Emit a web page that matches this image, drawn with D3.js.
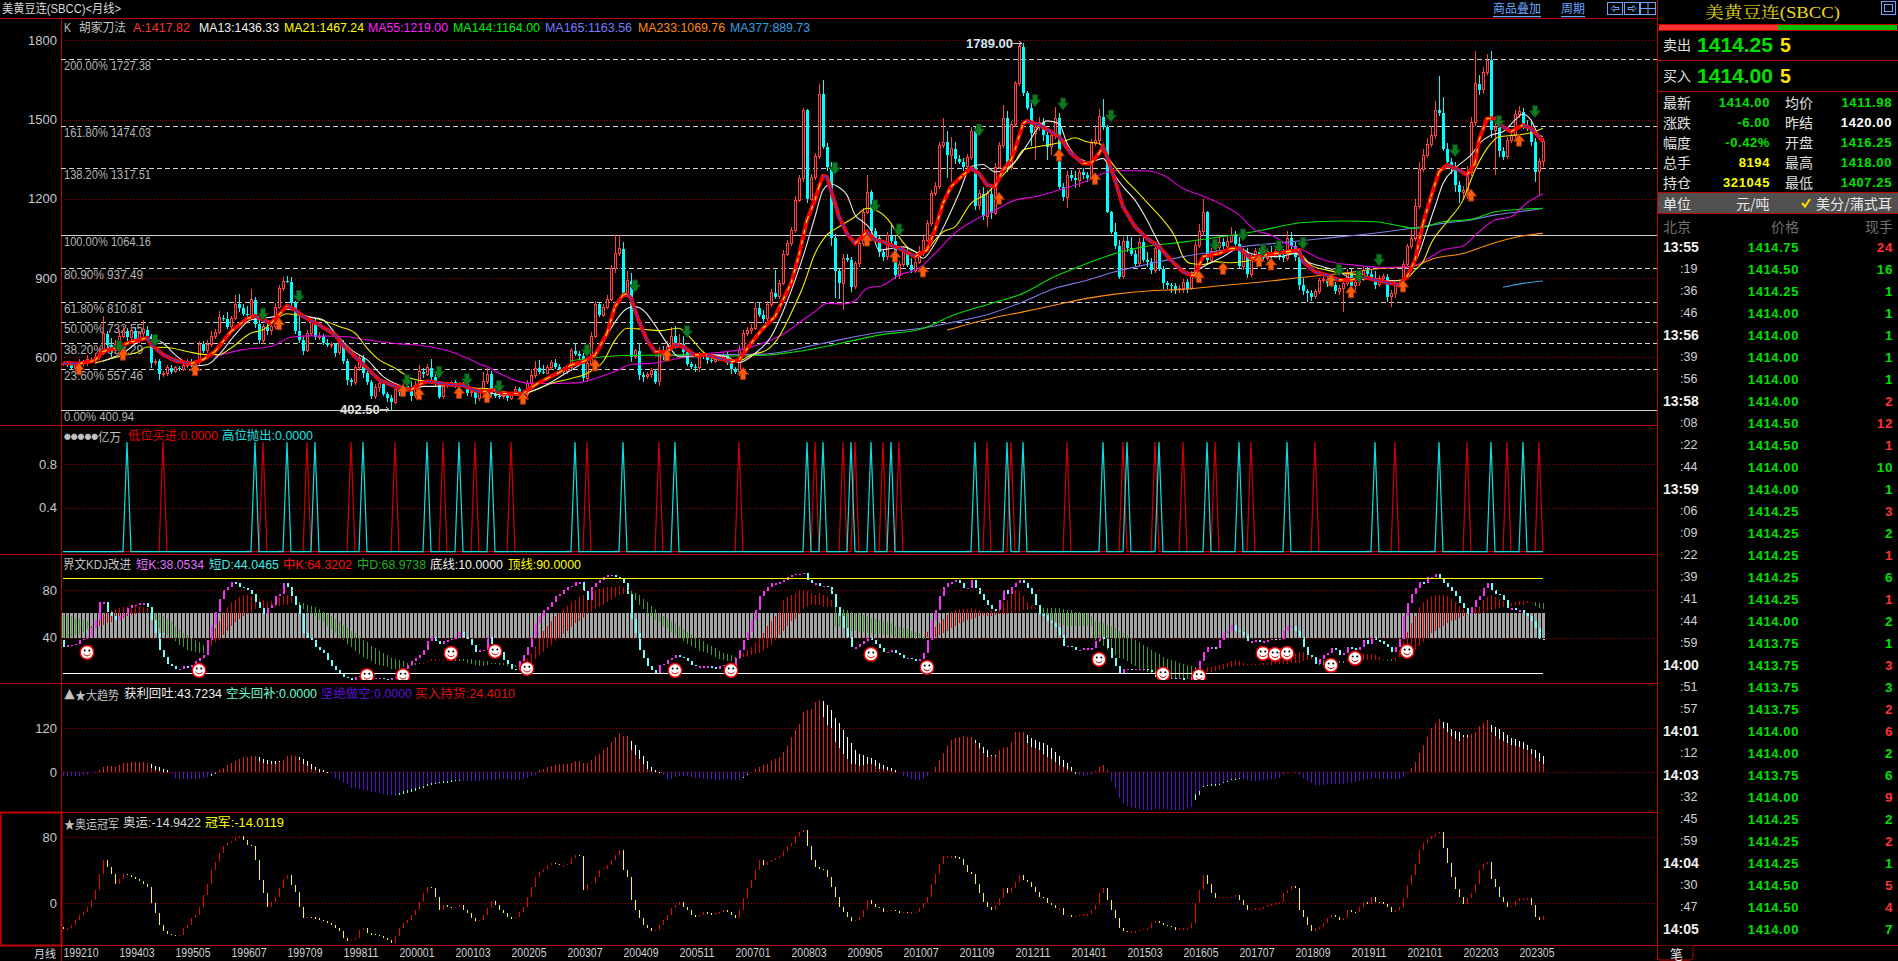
<!DOCTYPE html>
<html><head><meta charset="utf-8"><title>美黄豆连(SBCC)</title>
<script src="https://cdn.jsdelivr.net/npm/d3@7/dist/d3.min.js"></script>
<style>html,body{margin:0;padding:0;background:#000;overflow:hidden}svg{display:block}
text{font-family:"Liberation Sans","Noto Sans CJK SC",sans-serif;font-size:12px}
.cjk{font-family:"Noto Sans CJK SC",sans-serif}
</style></head><body><svg id="c" width="1898" height="961"></svg>
<script>
// ---- candle data (price, one value per month) ----
const closes=[578,572,560,570,580,575,590,585,600,615,
690,647,625,650,680,700,675,700,665,690,
705,680,580,585,535,540,560,545,560,555,
570,585,570,580,650,625,650,680,695,750,
745,715,745,800,787,765,760,818,725,665,
715,700,715,790,860,887,885,805,700,665,
625,690,730,675,680,655,645,650,618,655,
585,515,505,560,597,540,505,452,485,500,
462,447,430,480,470,490,480,455,495,545,
535,560,525,500,450,495,500,505,490,495,
500,465,470,445,470,510,535,460,452,450,
455,445,460,480,470,460,500,530,558,545,
540,560,580,565,555,545,560,625,612,605,
520,575,680,800,760,790,820,935,993,1010,
842,890,602,625,533,527,535,550,507,625,
605,640,680,645,650,620,575,565,560,610,
600,590,585,605,600,608,580,555,545,630,
690,700,710,785,760,745,800,845,830,880,
990,1030,1080,1195,1275,1535,1198,1280,1360,1596,
1397,1320,1050,925,880,975,970,868,955,1030,
1150,1225,1080,1050,1000,980,1060,1040,910,950,
1000,950,930,960,1000,1043,1105,1220,1245,1400,
1415,1365,1390,1352,1340,1322,1355,1456,1173,1220,
1133,1220,1145,1320,1400,1504,1320,1480,1636,1775,
1599,1545,1448,1470,1490,1440,1397,1440,1504,1246,
1205,1290,1277,1270,1300,1290,1280,1410,1420,1510,
1470,1150,1075,1020,905,1040,1012,990,955,1035,
970,960,930,1010,935,880,875,870,855,860,
885,860,910,1025,1075,1150,968,1000,1015,1035,
1020,1040,1060,1030,945,1000,915,975,1000,985,
975,1000,985,1000,985,975,1050,1020,980,875,
850,845,830,850,890,895,880,875,850,860,
880,918,870,885,900,930,915,900,875,900,
905,830,840,875,880,950,1020,1050,1170,1310,
1365,1405,1440,1535,1525,1390,1340,1315,1252,1225,
1230,1300,1490,1635,1612,1680,1725,1460,1470,1380,
1360,1420,1440,1520,1530,1480,1465,1415,1303,1340,
1417];
const upperWick=[6,8,5,10,12,8,20,8,15,25,
65,10,25,15,25,18,10,20,15,10,
35,15,8,10,8,8,10,10,6,6,
8,10,10,10,12,10,15,20,12,25,
10,25,10,36,40,15,30,40,10,15,
10,15,10,15,12,16,20,20,10,55,
10,15,10,20,15,8,15,8,5,10,
10,10,8,10,12,10,8,10,15,20,
10,8,10,12,8,15,15,30,15,25,
15,15,35,10,10,10,8,5,10,10,
8,12,5,8,12,35,25,15,8,8,
5,8,10,10,8,8,15,25,28,30,
25,10,8,15,10,8,12,10,28,10,
12,10,15,15,5,10,15,15,70,53,
25,35,30,8,30,10,8,8,5,15,
18,20,35,40,40,30,10,8,8,10,
10,15,8,8,8,10,15,8,8,15,
15,15,15,25,20,20,12,15,85,12,
15,15,15,15,15,10,5,15,15,40,
53,15,20,15,10,15,15,10,10,15,
15,65,10,10,10,10,15,40,20,15,
10,15,25,15,20,15,15,15,20,15,
90,40,45,25,15,15,15,15,15,15,
25,15,20,15,15,50,30,15,10,15,
14,10,25,15,20,15,25,20,44,20,
15,15,20,30,15,15,10,15,60,30,
66,10,5,35,25,15,20,45,15,15,
25,30,15,15,10,10,8,8,10,15,
10,10,15,15,30,50,5,15,15,25,
15,20,35,20,25,15,15,15,15,15,
15,15,20,20,30,25,30,25,15,10,
25,10,10,10,10,15,15,15,10,15,
15,15,15,15,10,10,15,15,25,10,
10,10,15,10,8,15,10,40,30,30,
25,25,35,35,130,60,20,15,25,15,
20,25,20,124,35,20,23,34,20,15,
15,15,25,15,20,15,20,30,15,15,
15];
const lowerWick=[5,8,8,10,8,8,8,5,5,10,
8,15,25,10,10,8,15,10,8,10,
15,10,20,8,20,10,12,8,6,5,
6,10,8,8,10,8,8,10,12,8,
8,8,15,5,15,8,10,8,15,15,
15,15,15,8,8,8,5,10,10,10,
15,5,8,8,8,10,5,8,15,8,
10,20,15,10,10,20,8,10,8,15,
8,15,28,8,15,10,8,20,10,8,
15,5,20,8,8,8,10,10,8,10,
8,10,15,20,10,12,10,15,5,8,
8,10,8,8,10,15,10,8,8,8,
5,5,8,8,8,8,8,8,8,10,
15,15,8,8,8,8,8,8,15,10,
15,8,20,8,20,20,10,15,8,15,
15,8,10,15,8,15,8,8,15,15,
8,15,8,8,8,10,8,20,10,15,
8,10,10,8,8,15,8,8,8,10,
8,8,10,8,8,10,15,8,10,10,
8,15,30,100,60,100,10,20,10,15,
10,8,15,10,20,15,10,10,15,15,
10,10,10,10,8,15,8,8,8,8,
8,88,100,20,10,15,8,8,15,15,
15,40,20,8,8,8,20,10,8,8,
8,8,50,100,15,20,50,30,15,10,
15,41,8,30,25,15,15,8,10,15,
10,5,8,10,10,10,15,8,10,15,
10,20,15,10,10,20,15,25,15,10,
15,15,5,8,10,15,10,10,10,8,
10,15,8,8,10,15,15,10,10,15,
10,10,15,10,15,15,10,12,15,20,
15,35,15,10,10,8,15,10,10,15,
90,10,20,15,15,10,12,10,15,10,
8,20,40,15,10,8,8,10,10,8,
8,10,8,15,10,10,15,20,25,40,
30,30,15,15,20,15,10,30,170,20,
15,10,10,10,15,15,10,15,40,90,
20];
// ---- moving averages: [bar index, price] ----
const maA=[[0,578],[4,576],[8,588],[10,622],[13,635],[17,658],[21,673],[22,650],[25,610],[28,588],[32,576],[35,591],[38,622],[42,698],[46,746],[48,757],[50,742],[52,729],[54,761],[56,795],[58,780],[60,755],[64,723],[68,685],[70,647],[73,603],[76,559],[79,515],[82,496],[85,481],[87,477],[89,496],[91,509],[94,503],[97,496],[100,494],[103,475],[105,470],[108,476],[110,463],[115,463],[118,495],[121,520],[124,542],[127,571],[130,583],[133,608],[136,691],[138,792],[140,836],[141,840],[142,823],[144,735],[146,665],[148,621],[151,621],[153,647],[155,640],[158,609],[161,609],[164,596],[167,583],[169,590],[172,653],[175,710],[178,754],[180,817],[182,880],[184,987],[186,1120],[188,1195],[189,1246],[190,1287],[191,1283],[192,1233],[194,1132],[196,1069],[198,1031],[201,1075],[203,1044],[205,1038],[207,1025],[210,1006],[213,981],[216,1006],[218,1082],[220,1183],[222,1246],[225,1290],[227,1315],[229,1296],[231,1252],[233,1246],[235,1309],[237,1347],[238,1385],[240,1485],[241,1495],[244,1479],[247,1454],[249,1435],[252,1372],[255,1334],[257,1334],[259,1372],[260,1397],[261,1359],[263,1271],[265,1170],[268,1094],[271,1050],[274,1019],[277,968],[280,924],[282,911],[283,911],[285,981],[289,993],[292,1012],[294,1012],[297,975],[300,987],[303,993],[306,1000],[309,1006],[310,962],[313,924],[316,911],[319,893],[322,893],[325,905],[328,893],[331,883],[334,874],[336,905],[338,968],[340,1107],[342,1208],[344,1303],[346,1328],[349,1309],[351,1290],[353,1334],[354,1422],[356,1504],[358,1504],[360,1473],[362,1454],[365,1479],[367,1466],[370,1417]];
const ma13=[[10,585],[15,616],[21,673],[25,654],[28,610],[33,568],[36,572],[39,610],[43,685],[47,742],[50,748],[53,755],[56,782],[58,777],[61,755],[65,742],[68,692],[72,629],[76,591],[80,528],[84,494],[87,477],[90,490],[94,490],[98,496],[102,484],[106,470],[110,457],[115,463],[120,489],[125,533],[130,580],[134,628],[137,710],[141,785],[143,792],[145,779],[148,722],[151,653],[154,602],[158,602],[162,609],[166,602],[169,580],[173,615],[177,678],[181,810],[185,981],[188,1132],[190,1233],[192,1256],[194,1243],[196,1214],[198,1139],[200,1113],[202,1082],[204,1006],[207,1012],[210,1018],[213,1000],[215,975],[218,1031],[221,1120],[224,1220],[227,1322],[230,1330],[233,1302],[236,1315],[238,1340],[241,1403],[244,1473],[246,1495],[249,1485],[251,1410],[254,1353],[257,1340],[260,1353],[262,1309],[265,1246],[268,1195],[271,1120],[274,1031],[277,962],[280,930],[282,918],[285,943],[290,981],[294,1012],[297,993],[301,981],[304,981],[308,993],[311,962],[315,943],[319,924],[323,893],[327,899],[331,890],[335,890],[337,930],[339,993],[341,1082],[343,1170],[345,1258],[348,1315],[352,1366],[355,1422],[357,1441],[360,1454],[363,1498],[365,1521],[367,1498],[369,1441],[370,1436]];
const ma21=[[8,578],[14,603],[19,622],[21,639],[26,637],[31,622],[36,610],[39,610],[42,635],[47,692],[50,704],[53,742],[56,765],[60,757],[64,744],[69,717],[73,692],[76,635],[79,591],[83,559],[87,521],[91,509],[95,503],[99,496],[103,484],[106,482],[110,470],[114,457],[118,476],[122,501],[127,520],[131,539],[135,583],[138,665],[141,710],[145,706],[149,701],[154,710],[157,672],[160,621],[164,590],[169,587],[172,609],[176,628],[179,678],[182,766],[185,867],[188,993],[191,1063],[194,1094],[198,1132],[201,1164],[204,1151],[207,1107],[209,1056],[212,1006],[215,993],[218,1044],[220,1075],[223,1094],[227,1183],[231,1220],[235,1290],[238,1340],[240,1385],[243,1395],[247,1406],[250,1416],[253,1431],[256,1416],[259,1410],[262,1340],[265,1283],[269,1220],[272,1170],[275,1120],[278,1056],[280,981],[282,955],[285,951],[288,962],[292,958],[297,968],[301,987],[306,993],[309,993],[312,949],[316,930],[320,918],[325,911],[329,890],[333,890],[336,899],[338,930],[340,962],[342,1031],[346,1113],[350,1195],[353,1309],[357,1410],[359,1435],[363,1441],[367,1450],[370,1467]];
const ma55=[[38,603],[45,629],[52,641],[57,676],[62,681],[70,679],[76,666],[84,651],[90,644],[96,626],[101,597],[104,576],[106,564],[110,533],[114,508],[118,501],[124,501],[129,504],[133,520],[138,546],[142,573],[147,577],[152,590],[158,609],[163,617],[169,628],[175,653],[181,697],[185,741],[188,773],[191,804],[195,802],[198,814],[201,861],[205,873],[209,911],[214,937],[218,993],[223,1071],[228,1120],[233,1157],[238,1195],[243,1208],[249,1233],[255,1262],[260,1296],[263,1306],[270,1306],[275,1290],[280,1239],[285,1210],[290,1176],[294,1139],[298,1082],[302,1063],[306,1029],[310,1006],[314,975],[318,958],[323,949],[330,940],[336,943],[339,953],[342,981],[345,1006],[350,1021],[354,1075],[358,1120],[362,1132],[366,1185],[370,1219]];
const ma144=[[127,587],[140,607],[155,609],[170,605],[185,625],[195,655],[204,684],[215,709],[222,756],[232,804],[240,842],[247,899],[255,949],[263,993],[270,1018],[280,1036],[290,1057],[300,1082],[310,1110],[320,1116],[328,1113],[333,1101],[338,1088],[345,1113],[352,1122],[358,1151],[364,1160],[370,1164]];
const ma165=[[148,605],[160,609],[175,612],[190,653],[204,694],[212,705],[222,731],[232,766],[240,810],[248,861],[256,892],[263,924],[272,955],[280,981],[290,1006],[295,1019],[305,1034],[315,1050],[325,1065],[335,1084],[345,1107],[352,1120],[358,1139],[364,1151],[370,1163]];
const ma233=[[221,703],[232,747],[240,772],[248,798],[256,823],[263,839],[272,852],[280,857],[290,872],[300,886],[310,903],[320,918],[330,937],[337,943],[343,975],[350,993],[357,1029],[364,1057],[370,1069]];
const ma377=[[360,865],[365,880],[370,889]];
const sellArrows=[[14,641],[23,664],[50,763],[59,830],[86,511],[94,543],[101,515],[109,489],[131,625],[143,870],[156,697],[193,1315],[203,1173],[209,1082],[229,1460],[243,1571],[250,1559],[262,1513],[288,1025],[295,1063],[300,1006],[304,1019],[310,1031],[319,930],[324,905],[329,968],[348,1382],[359,1492],[368,1530]];
const buyArrows=[[4,557],[15,612],[33,553],[54,727],[85,474],[89,462],[99,467],[106,451],[115,445],[133,571],[151,609],[170,539],[201,1044],[208,983],[215,927],[234,1202],[249,1366],[258,1277],[284,905],[290,937],[299,966],[302,953],[317,893],[322,848],[335,870],[352,1214],[364,1422]];
const fibLevels=[["200.00%",1727.38],["161.80%",1474.03],["138.20%",1317.51],["100.00%",1064.16],["80.90%",937.49],["61.80%",810.81],["50.00%",732.55],["38.20%",654.29],["23.60%",557.46],["0.00%",400.94]];
const priceTicks=[600,900,1200,1500,1800];
// ---- signal panel ----
const highSell=[16,48,56,63,75,91,99,107,128,140,153,186,190,197,202,207,228,236,240,260,266,274,286,294,306,328,344,357,365];
const lowBuy=[25,50,61,72,83,95,103,112,131,149,169,188,195,198,205,209,231,237,251,265,273,280,288,297,313,333,351,361,369];
const signalTicks=[0.4,0.8];
// ---- KDJ panel ----
const shortK=[32,34,34,35,38,39,41,48,55,70,
70,62,58,55,58,60,65,68,68,69,
69,66,55,44,30,24,18,16,14,14,
16,15,17,20,23,25,38,51,62,73,
80,83,87,86,83,82,80,77,70,65,
60,65,68,75,77,86,83,75,68,60,
44,40,38,32,30,27,21,16,13,10,
7,6,4,7,8,7,6,6,6,6,
5,4,6,7,10,14,17,20,23,25,
30,37,41,37,35,37,38,39,41,45,
41,39,34,28,30,30,41,35,28,28,
21,18,14,13,20,25,32,41,52,58,
63,66,70,75,77,80,83,84,87,87,
79,72,83,86,89,91,93,93,91,90,
86,77,56,44,30,23,16,13,10,17,
18,21,23,25,24,23,20,17,16,16,
16,16,15,14,16,17,17,16,23,30,
38,45,55,63,75,79,83,86,86,87,
89,91,93,94,94,95,89,86,86,84,
84,83,77,66,58,48,41,32,32,35,
37,41,38,35,31,28,28,30,27,25,
23,23,22,21,22,27,38,55,63,75,
83,86,87,89,86,82,82,89,82,77,
72,68,64,63,72,80,77,83,86,89,
86,82,77,68,60,59,54,52,49,42,
33,33,32,30,30,31,31,31,37,41,
39,31,23,16,10,14,14,13,14,14,
14,13,11,7,6,5,6,6,5,6,
4,4,7,14,20,28,32,32,31,38,
44,46,51,46,45,42,37,37,38,37,
37,38,39,38,39,46,50,50,46,41,
32,25,24,18,22,25,27,31,30,25,
27,32,31,30,32,38,35,41,38,37,
35,32,28,32,39,58,69,77,82,87,
86,91,91,94,90,86,83,79,75,69,
65,60,66,72,75,82,86,80,77,76,
72,65,65,63,63,61,58,54,48,39,
38];
const midK=[40,40,41,42,43,45,47,
50,55,58,60,62,63,64,65,66,66,67,67,67,66,65,64,
52,48,45,42,40,37,34,32,30,29,28,27,27,
36,42,48,54,60,66,70,72,74,76,76,75,74,73,72,71,71,72,74,75,76,75,74,
66,64,62,60,58,55,53,50,47,44,41,38,35,32,29,26,24,22,20,18,17,16,15,14,14,14,15,15,16,17,18,19,20,
22,22,22,21,21,21,20,20,20,19,18,17,16,16,17,18,18,17,17,16,15,15,15,16,
22,27,33,40,46,50,54,58,61,64,67,70,72,74,76,78,79,80,81,82,83,83,83,84,83,
80,77,72,68,64,60,58,55,53,50,48,45,42,39,37,35,33,31,29,28,27,25,24,22,21,20,20,20,22,
27,30,32,36,40,44,50,54,58,62,72,74,76,78,80,80,79,78,76,
78,76,74,72,
50,49,48,47,46,46,45,45,44,44,43,43,42,42,42,41,41,40,40,40,39,39,39,
45,47,49,52,56,59,62,63,64,64,64,65,64,63,62,62,63,64,66,70,72,
78,80,79,75,70,67,66,
62,60,58,56,54,52,51,50,50,50,50,50,50,50,
38,36,33,30,27,25,23,22,20,18,16,14,12,11,10,9,8,7,6,6,5,5,5,5,5,5,6,
13,15,15,16,17,18,19,20,21,20,19,18,18,18,18,
19,19,20,20,21,22,23,24,26,28,28,26,24,
18,17,17,18,18,18,19,19,
21,23,24,26,27,26,26,25,24,22,20,20,24,
30,37,45,52,58,66,70,73,75,76,76,76,75,73,70,67,64,63,64,65,67,72,74,76,74,72,71,70,69,70,71,71,71,70,67,65,64];
const midD=[60,59,58,57,56,55,54,
48,49,50,51,52,53,55,56,57,58,59,60,61,61,62,62,
61,60,58,56,54,50,47,44,42,40,38,36,34,
34,33,36,38,42,46,50,53,56,58,60,62,64,65,65,65,66,66,67,68,68,69,69,
70,69,68,67,66,64,62,60,58,56,54,51,48,46,44,41,38,36,33,31,29,27,25,23,22,21,20,19,19,19,19,19,20,
20,20,21,21,21,22,22,22,22,22,22,21,21,20,20,19,19,19,19,18,18,17,17,16,
18,19,22,25,28,31,34,37,40,43,46,49,52,54,57,60,62,64,66,68,70,72,74,76,77,
80,80,78,76,73,70,67,64,61,58,56,54,52,50,47,45,43,41,39,37,35,33,31,29,27,26,25,24,24,
24,24,25,26,27,29,31,34,38,42,46,50,54,56,60,64,66,68,68,
68,66,66,66,
66,65,64,63,62,61,60,59,58,57,56,55,54,53,52,50,49,48,47,46,45,44,41,
41,41,41,42,44,46,48,50,52,53,55,56,57,58,59,58,58,59,60,60,60,
61,62,62,63,63,64,64,
65,65,65,65,65,65,64,63,63,62,62,61,60,58,
54,53,52,51,50,48,46,44,42,40,38,36,34,32,30,28,26,24,22,21,20,19,18,17,16,15,14,
12,11,11,12,13,14,15,15,16,16,16,17,17,17,17,
17,17,17,18,18,18,18,19,19,19,20,21,22,
22,22,21,21,20,20,20,20,
20,20,20,20,21,21,21,21,21,21,21,22,20,
24,24,26,28,30,33,36,40,44,46,48,50,52,54,55,57,58,59,60,60,60,61,62,63,64,65,66,67,67,68,68,68,69,69,70,69,69];
const kdjTicks=[40,80];
const kdjBand=[40,61], kdjFloor=10, kdjCeil=90;
const smileys=[[6,27.6],[34,12.4],[76,8],[85,8],[97,26.8],[108,28.5],[116,14],[153,12.4],[167,12.4],[202,26],[216,15],[259,21.7],[275,9.3],[284,7.6],[300,26.8],[303,26],[306,26.8],[317,16.7],[323,22.6],[336,28.5]];
// ---- trend histogram ----
const trend=[-9,-9,-9,-9,-9,-8,-7,-3,-1,6,
14,17,17,15,20,25,26,27,28,27,
27,26,22,18,15,9,6,-1,-15,-17,
-19,-19,-19,-17,-17,-16,-14,-9,-2,5,
12,20,26,30,37,41,43,45,45,41,
37,34,32,30,30,33,44,46,45,42,
36,30,22,15,10,6,2,-5,-15,-22,
-28,-33,-42,-44,-45,-47,-50,-54,-55,-56,
-59,-62,-63,-64,-63,-60,-57,-54,-50,-45,
-42,-38,-35,-33,-30,-28,-28,-26,-24,-22,
-23,-25,-25,-25,-24,-22,-20,-20,-20,-19,
-19,-19,-20,-20,-20,-18,-16,-10,-8,5,
10,14,18,21,23,23,24,26,30,32,
25,26,33,45,50,60,68,82,97,106,
100,100,85,75,60,45,30,15,5,1,
-8,-18,-18,-14,-10,-10,-10,-12,-15,-16,
-17,-18,-18,-20,-20,-19,-18,-20,-20,-20,
-15,-8,0,8,14,20,24,30,36,42,
55,72,95,115,132,165,170,172,193,197,
194,184,170,147,134,115,97,79,61,50,
47,41,38,34,25,20,15,11,5,0,
-10,-12,-17,-20,-20,-18,-10,-3,14,34,
54,73,88,93,97,99,97,95,88,79,
70,61,47,47,61,65,69,83,111,111,
109,102,93,88,84,79,75,65,56,45,
34,25,15,-5,-8,-10,-8,-6,3,15,
20,6,-25,-44,-71,-85,-92,-95,-98,-100,
-103,-103,-102,-101,-101,-100,-101,-102,-103,-103,
-102,-101,-94,-75,-62,-41,-38,-37,-36,-35,
-30,-27,-21,-19,-18,-19,-21,-23,-23,-23,
-22,-20,-18,-17,-16,-7,-2,0,2,-7,
-15,-25,-30,-35,-35,-34,-33,-32,-32,-32,
-31,-30,-28,-26,-23,-21,-19,-17,-16,-17,
-18,-19,-19,-18,-18,-12,-2,11,29,52,
75,97,120,134,145,138,135,117,114,111,
102,102,105,111,125,135,143,129,123,117,
111,102,93,91,86,82,75,64,61,52,
44];
// core part of a bar (red/purple); the rest of the bar is the white/teal tip
const trendCore=[[22,[12,6,4,2,1]],[37,[-5,-1]],[49,[30,26,24,22,24,28]],[59,[34,24,18,10,5,2,0,0]],[84,[-57,-52,-49,-46,-42,-40,-37,-33,-30,-28,-26,-24,-24,-22,-20,-20]],[142,[60,48,35,22,10,3,0,0]],[170,[-12,-5]],[190,[150,130,120,84,66,50,35,22,22,18,20,24,22,18,10,8,6,4,2,0]],[228,[80,65,52,42,44,45]],[241,[80,70,66,60,50,42,35,28,20,14,8,4,2]],[283,[-60,-50,-36,-34,-33,-32,-31,-26,-24,-18,-17,-16]],[345,[120,110,100,90,85,95,95]],[357,[110,100,92,86,80,74,72,68,64,60,50,40,30,24]]];
const trendTicks=[0,120];
// ---- olympic panel ----
const olympic=[-30,-30,-26,-20,-14,-10,-4,4,16,36,53,44,36,24,30,36,34,32,30,27,24,20,0,-12,-26,-34,-37,-38,-40,-38,-30,-26,-18,-14,-4,10,24,40,50,61,69,73,76,79,81,77,71,69,53,28,12,-4,2,8,18,30,34,22,14,-4,-18,-16,-17,-18,-20,-22,-24,-26,-30,-34,-42,-46,-44,-42,-32,-30,-36,-37,-38,-40,-42,-44,-48,-40,-30,-24,-20,-14,-8,2,12,20,18,8,-8,-2,-4,-6,-4,-2,-8,-12,-18,-22,-20,-14,-6,3,-2,-8,-12,-17,-18,-16,-10,-4,8,20,32,38,42,46,49,48,46,46,48,55,59,57,16,24,25,32,40,42,46,53,59,65,40,32,4,-8,-18,-26,-30,-33,-32,-26,-20,-14,-6,-2,2,-4,-8,-14,-17,-14,-11,-12,-13,-12,-11,-8,-10,-14,-18,-8,6,18,28,40,53,46,50,53,55,57,63,69,73,81,87,89,69,53,44,42,
40,32,20,8,-4,-10,-16,-22,-20,-16,-8,4,-1,-4,-6,-10,-9,-8,-9,-12,-10,-11,-11,-10,-6,0,8,24,36,48,57,57,57,56,54,46,38,36,24,12,1,-4,-8,-2,6,18,12,18,26,34,28,26,20,14,8,6,0,-2,-6,-6,-14,-14,-16,-15,-14,-13,-13,-8,-2,12,18,4,-8,-18,-30,-33,-34,-34,-34,-32,-31,-30,-24,-22,-24,-26,-27,-29,-32,-30,-30,-30,-24,0,
16,34,23,12,7,8,8,8,8,10,4,-2,-8,-8,-6,-6,-5,-2,-1,0,1,12,16,21,18,-8,-16,-26,-34,-30,-29,-24,-18,-14,-16,-20,-18,-8,-10,-11,-5,2,-1,8,2,1,-1,-4,-11,-8,-5,7,22,34,48,65,73,78,81,84,86,67,49,32,17,8,-1,6,12,23,40,48,50,30,20,8,2,-4,-3,3,6,6,6,-2,-16,-20,-15];
const olympicTicks=[0,80];
// ---- time axis ----
const dateLabels=["199210","199403","199505","199607","199709","199811","200001","200103","200205","200307","200409","200511","200701","200803","200905","201007","201109","201211","201401","201503","201605","201707","201809","201911","202101","202203","202305"];
const dateStep=14;
// ---- quote panel ----
const quoteRows=[["最新","1414.00","#00e000","均价","1411.98","#00e000"],["涨跌","-6.00","#00e000","昨结","1420.00","#ffffff"],["幅度","-0.42%","#00e000","开盘","1416.25","#00e000"],["总手","8194","#ffff00","最高","1418.00","#00e000"],["持仓","321045","#ffff00","最低","1407.25","#00e000"]];
const tickTimes=["13:55",":19",":36",":46","13:56",":39",":56","13:58",":08",":22",":44","13:59",":06",":09",":22",":39",":41",":44",":59","14:00",":51",":57","14:01",":12","14:03",":32",":45",":59","14:04",":30",":47","14:05"];
const tickPrices=["1414.75","1414.50","1414.25","1414.00","1414.00","1414.00","1414.00","1414.00","1414.50","1414.50","1414.00","1414.00","1414.25","1414.25","1414.25","1414.25","1414.25","1414.00","1413.75","1413.75","1413.75","1413.75","1414.00","1414.00","1413.75","1414.00","1414.25","1414.25","1414.25","1414.50","1414.50","1414.00"];
const tickVols=[24,16,1,1,1,1,1,2,12,1,10,1,3,2,1,6,1,2,1,3,3,2,6,2,6,9,2,2,1,5,4,7];
const tickUp=[1,0,0,0,0,0,0,1,1,1,0,0,1,0,1,0,1,0,0,1,0,1,1,0,0,1,0,1,0,1,1,0];

const svg=d3.select("#c");
const RED="#c00000", LEFT=61, RIGHT=1657;
const x=d3.scaleLinear().domain([0,370]).range([63,1543]);
const yP=d3.scaleLinear().domain([600,1800]).range([357.3,40.3]);
const yS=d3.scaleLinear().domain([0,1]).range([551.6,442]);
const yK=d3.scaleLinear().domain([40,80]).range([637.7,590.3]);
const yH=d3.scaleLinear().domain([0,120]).range([772.3,728.3]);
const yO=d3.scaleLinear().domain([0,80]).range([903.3,837.3]);

function txt(g,s,px,py,color,opt){opt=opt||{};const t=g.append("text").attr("x",px).attr("y",py).attr("fill",color).attr("dominant-baseline","central").text(s);
 if(opt.size)t.style("font-size",opt.size+"px");if(opt.anchor)t.attr("text-anchor",opt.anchor);if(opt.weight)t.style("font-weight",opt.weight);if(opt.cls)t.attr("class",opt.cls);if(opt.family)t.style("font-family",opt.family);if(opt.len)t.attr("textLength",opt.len).attr("lengthAdjust","spacingAndGlyphs");return t;}
function grid(g,scale,ticks){
 g.selectAll(null).data(ticks).enter().append("line").attr("x1",LEFT).attr("x2",RIGHT).attr("y1",d=>Math.round(scale(d))+.5).attr("y2",d=>Math.round(scale(d))+.5).attr("stroke","#a80000").attr("stroke-dasharray","1 2");
 const ax=d3.axisLeft(scale).tickValues(ticks).tickSize(0).tickPadding(0).tickFormat(d=>d);
 const a=g.append("g").attr("transform","translate(57,0)").call(ax);a.select(".domain").remove();
 a.selectAll("text").attr("fill","#c8c8c8").style("font-size","13px").style("font-family",'"Liberation Sans",sans-serif');
}
// ---- frame ----
const frame=svg.append("g");
[18.5,425.5,554.5,683.5,812.5,945.5].forEach(y=>frame.append("line").attr("x1",0).attr("x2",1657).attr("y1",y).attr("y2",y).attr("stroke",RED));
frame.append("line").attr("x1",61.5).attr("x2",61.5).attr("y1",18).attr("y2",961).attr("stroke",RED);
frame.append("rect").attr("x",.5).attr("y",812.5).attr("width",61).attr("height",133).attr("fill","none").attr("stroke",RED).attr("stroke-width",2);

// ---- price panel ----
const pGrid=svg.append("g");
grid(pGrid,yP,priceTicks);
pGrid.selectAll(null).data(fibLevels).enter().append("line").attr("x1",LEFT).attr("x2",RIGHT).attr("y1",d=>Math.round(yP(d[1]))+.5).attr("y2",d=>Math.round(yP(d[1]))+.5)
 .attr("stroke","#d0d0d0").attr("stroke-dasharray",d=>(d[0]=="100.00%"||d[0]=="0.00%")?null:"5 3");
fibLevels.forEach(d=>txt(pGrid,d[0]+" "+d[1].toFixed(2),64,yP(d[1])+7,"#b4b4b4",{len:d[0].length==7?87:d[0].length==6?79:70}));

const candles=svg.append("g").attr("shape-rendering","crispEdges");
closes.forEach((c,i)=>{const o=i?closes[i-1]:c-5,up=c>=o,cx=Math.round(x(i)),col=up?"#ff4040":"#00ffff";
 const top=Math.max(o,c),bot=Math.min(o,c);
 candles.append("rect").attr("x",cx).attr("width",1).attr("y",yP(top+upperWick[i])).attr("height",yP(bot-lowerWick[i])-yP(top+upperWick[i])).attr("fill",col);
 const h=Math.max(1,yP(bot)-yP(top));
 if(up)candles.append("rect").attr("x",cx-.5).attr("y",yP(top)).attr("width",2).attr("height",h).attr("fill","#000").attr("stroke",col);
 else candles.append("rect").attr("x",cx-1).attr("y",yP(top)).attr("width",3).attr("height",h).attr("fill",col);
});
const ln=d3.line().x(d=>x(d[0])).y(d=>yP(d[1])).curve(d3.curveMonotoneX);
[[ma377,"#3aa0d8"],[ma233,"#ff8c10"],[ma165,"#7a7ae8"],[ma144,"#00e000"],[ma55,"#e000e0"],[ma21,"#f0f000"],[ma13,"#e8e8e8"]].forEach(([d,c])=>svg.append("path").datum(d).attr("d",ln).attr("fill","none").attr("stroke",c).attr("stroke-width",1.1));
const lnA=d3.line().x(d=>x(d[0])).y(d=>yP(d[1]));
svg.append("path").datum(maA).attr("d",lnA).attr("fill","none").attr("stroke","#ff0000").attr("stroke-width",4);
d3.pairs(maA).forEach(p=>{const up=p[1][1]>=p[0][1];svg.append("path").datum(p).attr("d",lnA).attr("fill","none").attr("stroke",up?"#ffe000":"#2040ff").attr("stroke-width",1.2).attr("stroke-dasharray",up?"4 7":"5 3");});
// arrows
function arrow(g,i,p,down){const cx=x(i),cy=yP(p),s=down?1:-1;
 g.append("path").attr("d",`M${cx-2.5},${cy-6*s}L${cx+2.5},${cy-6*s}L${cx+2.5},${cy-1*s}L${cx+5.5},${cy-1*s}L${cx},${cy+6*s}L${cx-5.5},${cy-1*s}L${cx-2.5},${cy-1*s}Z`)
 .attr("fill",down?"#0e7a20":"#ff5a0a").attr("stroke",down?"#0a4018":"#983410");}
const arr=svg.append("g");
sellArrows.forEach(d=>arrow(arr,d[0],d[1],true));
buyArrows.forEach(d=>arrow(arr,d[0],d[1],false));
// extreme labels
txt(svg,"1789.00",966,43,"#d8e4f0",{weight:"bold",size:13});
svg.append("path").attr("d","M1013,43.5H1022M1019,41L1022,43.5L1019,46").attr("stroke","#ccc").attr("fill","none");
txt(svg,"402.50",340,409,"#e0e0e0",{weight:"bold",size:13});
svg.append("path").attr("d","M380,409.5H389M386,407L389,409.5L386,412").attr("stroke","#ccc").attr("fill","none");
// legend
const lg=svg.append("g");
[["K",64,"#c0c0c0",7],["胡家刀法",79,"#c0c0c0",47],["A:1417.82",133,"#ff3030",57],["MA13:1436.33",199,"#f0f0f0",80],["MA21:1467.24",284,"#ffff00",80],["MA55:1219.00",368,"#ff20ff",80],["MA144:1164.00",453,"#00f000",87],["MA165:1163.56",545,"#7a7aff",87],["MA233:1069.76",638,"#ff8c10",87],["MA377:889.73",730,"#30a0e0",80]]
 .forEach(d=>txt(lg,d[0],d[1],28,d[2],{size:12.5,len:d[3]}));
// ---- header ----
const hd=svg.append("g");
txt(hd,"美黄豆连(SBCC)<月线>",2,9,"#d8d8d8",{size:12,len:119});
txt(hd,"商品叠加",1493,9,"#6aa8ff",{size:12,len:48}).attr("text-decoration","underline");
txt(hd,"周期",1561,9,"#6aa8ff",{size:12,len:24}).attr("text-decoration","underline");
[1607,1624,1640].forEach(px=>hd.append("rect").attr("x",px+.5).attr("y",2.5).attr("width",15).attr("height",12).attr("fill","none").attr("stroke","#6aa8ff"));
hd.append("path").attr("d","M1611,8.5L1614,5.5V7.5H1619V9.5H1614V11.5Z M1636,8.5L1633,5.5V7.5H1628V9.5H1633V11.5Z M1640.5,8.5H1655.5 M1648,2.5V14.5").attr("fill","none").attr("stroke","#6aa8ff");

// ---- signal panel ----
const sG=svg.append("g");grid(sG,yS,signalTicks);
const signalSeries=list=>closes.map((_,i)=>list.includes(i)?1:0);
const lnS=d3.line().x((d,i)=>x(i)).y(d=>yS(d));
sG.append("path").datum(signalSeries(lowBuy)).attr("d",lnS).attr("fill","none").attr("stroke","#d00000").attr("stroke-width",1.2);
sG.append("path").datum(signalSeries(highSell)).attr("d",lnS).attr("fill","none").attr("stroke","#10e0e0").attr("stroke-width",1.2);
txt(sG,"●●●●●",64,436,"#c0c0c0",{size:7,cls:"cjk",len:34});
txt(sG,"亿万",98,436,"#c0c0c0",{size:12,cls:"cjk",len:23});
txt(sG,"低位买进:0.0000",128,436,"#e00000",{size:12.5,len:90});
txt(sG,"高位抛出:0.0000",222,436,"#20e0e0",{size:12.5,len:91});

// ---- KDJ panel ----
const kG=svg.append("g");
svg.append("clipPath").attr("id","kc").append("rect").attr("x",LEFT).attr("y",555).attr("width",RIGHT-LEFT).attr("height",125);
const kBody=kG.append("g").attr("clip-path","url(#kc)").attr("shape-rendering","crispEdges");
grid(kG,yK,kdjTicks);
closes.forEach((_,i)=>kBody.append("rect").attr("x",Math.round(x(i))-1).attr("width",3).attr("y",yK(kdjBand[1])).attr("height",yK(kdjBand[0])-yK(kdjBand[1])).attr("fill","#a4a4a4"));
midK.forEach((k,i)=>{const d=midD[i];kBody.append("rect").attr("x",Math.round(x(i))).attr("width",1).attr("y",yK(Math.max(k,d))).attr("height",Math.max(1,Math.abs(yK(k)-yK(d)))).attr("fill",k>=d?"#e00000":"#38a020");});
shortK.forEach((k,i)=>{const p=i?shortK[i-1]:k+6;kBody.append("rect").attr("x",Math.round(x(i))).attr("width",2).attr("y",yK(Math.max(k,p))).attr("height",Math.max(1.5,Math.abs(yK(k)-yK(p)))).attr("fill",k>=p?"#ff30ff":"#70ffff");});
[[kdjCeil,"#ffff00"],[kdjFloor,"#ffffff"]].forEach(([v,c])=>kG.append("line").attr("x1",x(0)).attr("x2",x(370)).attr("y1",Math.round(yK(v))+.5).attr("y2",Math.round(yK(v))+.5).attr("stroke",c).attr("stroke-width",1));
const smG=kG.append("g").attr("clip-path","url(#kc)");
smileys.forEach(([i,v])=>{const g=smG.append("g").attr("transform",`translate(${x(i)},${yK(v)})`);
 g.append("ellipse").attr("rx",6.8).attr("ry",6.8).attr("fill","#fff").attr("stroke","#f00000").attr("stroke-width",1.5);
 g.append("circle").attr("cx",-2.3).attr("cy",-1.8).attr("r",1).attr("fill","#000");
 g.append("circle").attr("cx",2.3).attr("cy",-1.8).attr("r",1).attr("fill","#000");
 g.append("path").attr("d","M-3.5,1.5Q0,5.5,3.5,1.5").attr("fill","none").attr("stroke","#d00000");});
txt(kG,"界文KDJ改进",63,565,"#c0c0c0",{size:12.5,len:68});
[["短K:38.0534",136,"#e070ff",68],["短D:44.0465",209,"#40e8e8",70],["中K:64.3202",283,"#ff1010",69],["中D:68.9738",357,"#20b020",69],["底线:10.0000",430,"#f0f0f0",73],["顶线:90.0000",508,"#ffff00",73]].forEach(d=>txt(kG,d[0],d[1],565,d[2],{size:12.5,len:d[3]}));

// ---- trend panel ----
const tG=svg.append("g");grid(tG,yH,trendTicks);
const coreAt=new Map();trendCore.forEach(([s,a])=>a.forEach((v,k)=>coreAt.set(s+k,v)));
const tB=tG.append("g").attr("shape-rendering","crispEdges");
trend.forEach((v,i)=>{const c=coreAt.has(i)?coreAt.get(i):v,px=Math.round(x(i));
 const bar=(a,b,col)=>{if(Math.abs(yH(a)-yH(b))>=.3)tB.append("rect").attr("x",px).attr("width",1).attr("y",Math.min(yH(a),yH(b))).attr("height",Math.max(1,Math.abs(yH(a)-yH(b)))).attr("fill",col);};
 if(v>=0){bar(0,c,"#f01818");bar(c,v,"#ffffff");}else{bar(0,c,"#5a10c8");bar(c,v,"#70ffd0");}
});
txt(tG,"▲★大趋势",64,694,"#c0c0c0",{size:12.5,cls:"cjk",len:55});
[["获利回吐:43.7234",124,"#f0f0f0",98],["空头回补:0.0000",226,"#70ffd0",91],["坚绝做空:0.0000",321,"#6010d8",91],["买入持货:24.4010",415,"#e01010",100]].forEach(d=>txt(tG,d[0],d[1],694,d[2],{size:12.5,len:d[3]}));

// ---- olympic panel ----
const oG=svg.append("g");grid(oG,yO,olympicTicks);
const oB=oG.append("g").attr("shape-rendering","crispEdges");
olympic.forEach((v,i)=>{const p=i?olympic[i-1]:v+1;oB.append("rect").attr("x",Math.round(x(i))).attr("width",1).attr("y",yO(Math.max(v,p))).attr("height",Math.max(1.5,Math.abs(yO(v)-yO(p)))).attr("fill",v>=p?"#f00000":"#ffff00");});
txt(oG,"★奥运冠军",64,823,"#c0c0c0",{size:12.5,cls:"cjk",len:55});
txt(oG,"奥运:-14.9422",123,823,"#d8d8d8",{size:12.5,len:78});
txt(oG,"冠军:-14.0119",205,823,"#ffff00",{size:12.5,len:79});

// ---- time axis ----
const xAx=d3.axisBottom(x).tickValues(dateLabels.map((_,k)=>k*dateStep)).tickSize(0).tickPadding(0).tickFormat((d,k)=>dateLabels[k]);
const ag=svg.append("g").attr("transform","translate(0,948)").call(xAx);ag.select(".domain").remove();
ag.selectAll("text").attr("fill","#d0d0d0").attr("text-anchor","start").attr("textLength",35).attr("lengthAdjust","spacingAndGlyphs").style("font-size","12px").style("font-family",'"Liberation Sans",sans-serif');
txt(svg,"月线",34,953,"#d8d8d8",{size:11,cls:"cjk",len:22});

// ---- right quote panel ----
const q=svg.append("g");
q.append("line").attr("x1",1657.5).attr("x2",1657.5).attr("y1",0).attr("y2",960).attr("stroke",RED);
[24.5,30.5,60.5,91.5,192.5,213.5,945.5].forEach(y=>q.append("line").attr("x1",1657).attr("x2",1898).attr("y1",y).attr("y2",y).attr("stroke",RED));
q.append("rect").attr("x",1659).attr("y",25).attr("width",119).attr("height",5).attr("fill","#ff3030");
q.append("rect").attr("x",1778).attr("y",25).attr("width",119).attr("height",5).attr("fill","#00c000");
q.append("rect").attr("x",1881.5).attr("y",1.5).attr("width",14).attr("height",13).attr("fill","none").attr("stroke","#6aa8ff");
q.append("rect").attr("x",1884.5).attr("y",4.5).attr("width",8).attr("height",7).attr("fill","none").attr("stroke","#6aa8ff");
q.append("path").attr("d","M1640.5,2.5H1655.5V14.5H1640.5Z").attr("fill","none").attr("stroke","#6aa8ff");
txt(q,"美黄豆连(SBCC)",1705,12,"#e8d820",{size:16,len:135,family:'"Liberation Serif","Noto Serif CJK SC","Noto Sans CJK SC",serif'});
[["卖出","1414.25",45],["买入","1414.00",76]].forEach(d=>{
 txt(q,d[0],1663,d[2],"#e0e0e0",{size:14});
 txt(q,d[1],1697,d[2],"#00e000",{size:19.5,weight:"bold",len:76});
 txt(q,"5",1780,d[2],"#ffe000",{size:19.5,weight:"bold"});});
const mono='"Liberation Sans",sans-serif';
quoteRows.forEach((r,k)=>{const y=102+k*20;
 txt(q,r[0],1663,y,"#e0e0e0",{size:14,cls:"cjk"});
 txt(q,r[1],1770,y,r[2],{size:13,anchor:"end",weight:"bold",family:mono}).style("letter-spacing",".6px");
 txt(q,r[3],1785,y,"#e0e0e0",{size:14,cls:"cjk"});
 txt(q,r[4],1892,y,r[5],{size:13,anchor:"end",weight:"bold",family:mono}).style("letter-spacing",".6px");});
q.append("rect").attr("x",1658).attr("y",193).attr("width",240).attr("height",20).attr("fill","#505050");
txt(q,"单位",1663,203,"#e8e8e8",{size:14,cls:"cjk"});
txt(q,"元/吨",1736,203,"#e8e8e8",{size:14,cls:"cjk"});
q.append("path").attr("d","M1802,203L1805,206.5L1810,199").attr("fill","none").attr("stroke","#ffe000").attr("stroke-width",2);
txt(q,"美分/蒲式耳",1816,203,"#e8e8e8",{size:14,cls:"cjk",len:76});
txt(q,"北京",1663,226,"#707070",{size:14,cls:"cjk"});
txt(q,"价格",1799,226,"#707070",{size:14,cls:"cjk",anchor:"end"});
txt(q,"现手",1893,226,"#707070",{size:14,cls:"cjk",anchor:"end"});
tickTimes.forEach((t,k)=>{const y=247+k*22,full=t.length>3;
 txt(q,t,full?1663:1680,y,full?"#f0f0f0":"#d0d0d0",{size:full?14:12.5,weight:full?"bold":null,family:mono});
 txt(q,tickPrices[k],1799,y,"#00e000",{size:13,anchor:"end",weight:"bold",family:mono}).style("letter-spacing",".6px");
 txt(q,tickVols[k],1893,y,tickUp[k]?"#ff3030":"#00e000",{size:13.5,anchor:"end",weight:"bold",family:mono}).style("letter-spacing",".6px");});
q.append("path").attr("d","M1657.5,945.5V957Q1657.5,960,1660,960H1690Q1693,960,1693,957V948Q1693,945.5,1696,945.5").attr("fill","#000").attr("stroke",RED);
txt(q,"笔",1670,953,"#e8e8e8",{size:13,cls:"cjk"});
</script></body></html>
